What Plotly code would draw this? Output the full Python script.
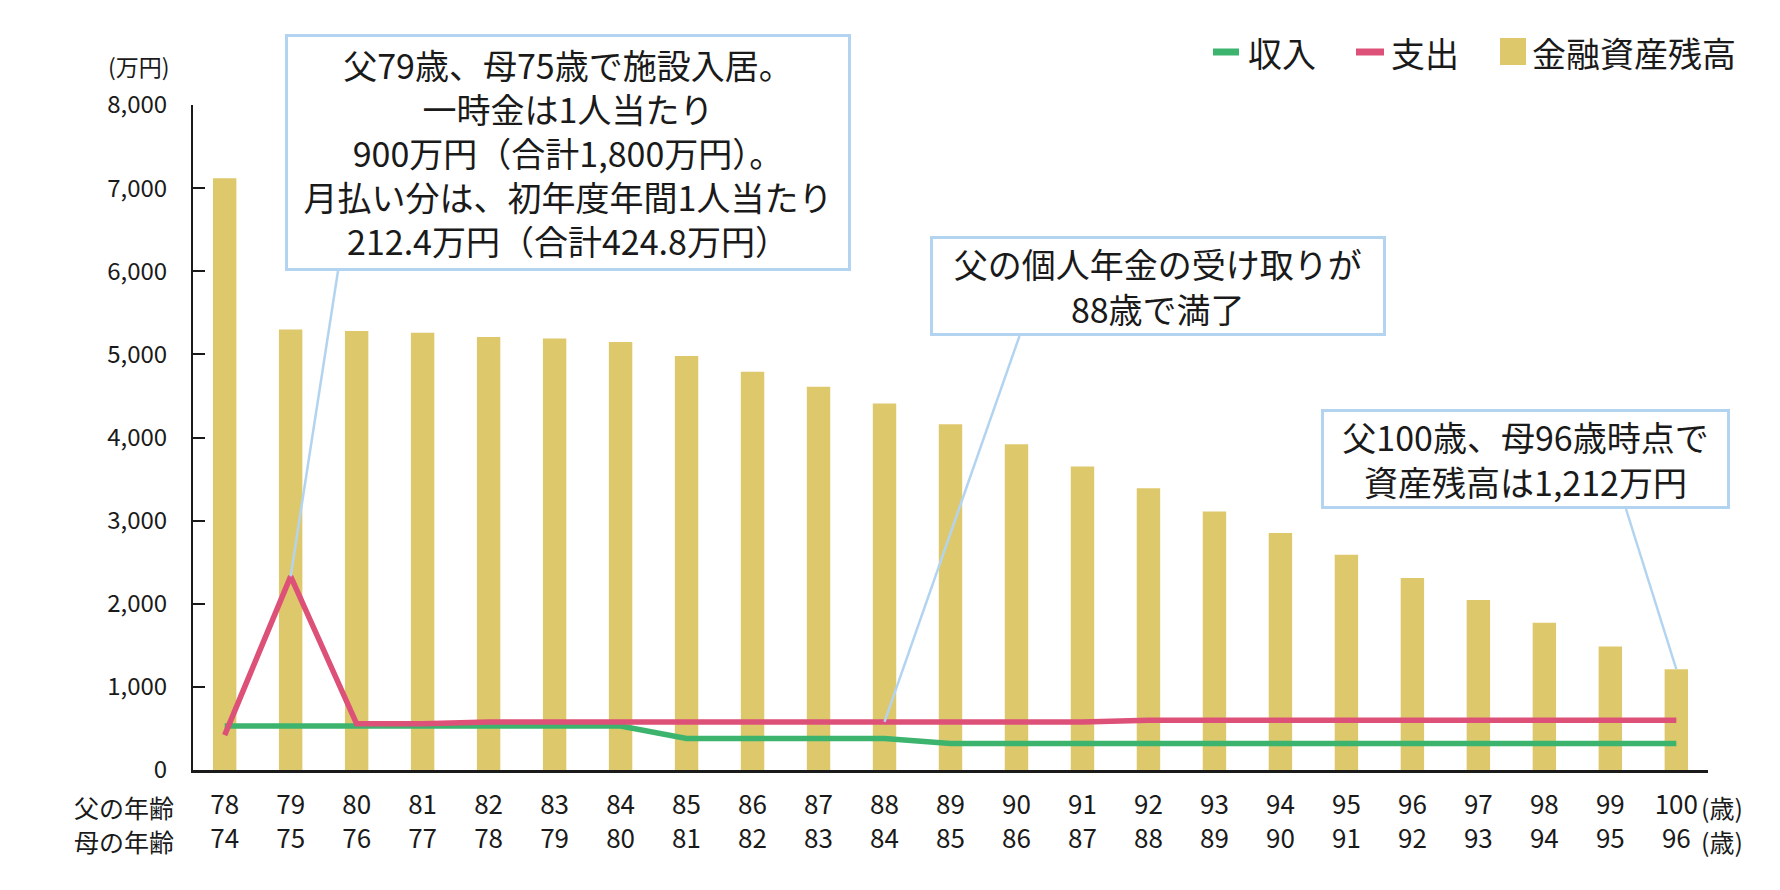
import plotly.graph_objects as go

# 年齢（父・母）
chichi = list(range(78, 101))
haha = list(range(74, 97))

# 金額（万円）
shuunyuu = [530, 530, 530, 530, 530, 530, 530, 380, 380, 380, 380,
            320, 320, 320, 320, 320, 320, 320, 320, 320, 320, 320, 320]
shishutsu = [420, 2330, 555, 555, 578, 578, 578, 578, 578, 578, 578,
             578, 578, 578, 600, 600, 600, 600, 600, 600, 600, 600, 600]
zandaka = [7120, 5300, 5280, 5260, 5210, 5190, 5150, 4980, 4790, 4610, 4410,
           4160, 3920, 3650, 3390, 3110, 2850, 2590, 2310, 2045, 1770, 1485, 1212]

ticktext = [f"{f}<br>{m}" for f, m in zip(chichi, haha)]

FONT = "Noto Sans CJK JP"
KURO = "#1a1a1a"
GOLD = "#dec86c"
MIDORI = "#3cb46e"
AKA = "#dd5078"
AO = "#b2d4f0"

# ページ上の位置（ブラウザのbody margin 8px分を差し引く）
OFF = 8
FW, FH = 1780 - 2 * OFF, 890 - 2 * OFF
X0, X1, Y0, Y1 = 193, 1708, 105, 770   # プロット領域（ページ座標）
XMIN, XMAX = 77.52, 100.48


def px(p):
    return (p - X0) / (X1 - X0)


def py(p):
    return (Y1 - p) / (Y1 - Y0)


def dx(p):
    return XMIN + (p - X0) / (X1 - X0) * (XMAX - XMIN)


def dy(p):
    return (Y1 - p) / (Y1 - Y0) * 8000


fig = go.Figure()

fig.add_trace(go.Bar(
    x=chichi, y=zandaka, name='金融資産残高',
    marker=dict(color=GOLD, line=dict(width=0)),
    width=0.355
))
fig.add_trace(go.Scatter(
    x=chichi, y=shuunyuu, name='収入', mode='lines',
    line=dict(color=MIDORI, width=5.5)
))
fig.add_trace(go.Scatter(
    x=chichi, y=shishutsu, name='支出', mode='lines',
    line=dict(color=AKA, width=5.5)
))

# 吹き出し（テキストボックス）
boxes = [
    ("父79歳、母75歳で施設入居。<br>一時金は1人当たり<br>900万円（合計1,800万円）。"
     "<br>月払い分は、初年度年間1人当たり<br>212.4万円（合計424.8万円）",
     285, 851, 34, 271),
    ("父の個人年金の受け取りが<br>88歳で満了", 930.5, 1386, 236, 336),
    ("父100歳、母96歳時点で<br>資産残高は1,212万円", 1321, 1730, 409, 509),
]
annotations = []
for txt, x0, x1, y0, y1 in boxes:
    annotations.append(dict(
        text=txt, xref='paper', yref='paper',
        x=px((x0 + x1) / 2), y=py((y0 + y1) / 2),
        xanchor='center', yanchor='middle', showarrow=False,
        width=x1 - x0 - 14, height=y1 - y0 - 14,
        align='center', valign='middle',
        bgcolor='white', bordercolor=AO, borderwidth=3, borderpad=4,
        font=dict(family=FONT, size=34, color=KURO)
    ))

# 吹き出しの線（ボックス下端 -> 指し示す点）
pointers = [
    (338, 271, chichi[1], shishutsu[1]),
    (1019.5, 336, chichi[10], 580),
    (1626, 509, chichi[-1], zandaka[-1]),
]
shapes = []
for sx, sy, ex, ey in pointers:
    shapes.append(dict(
        type='line', xref='x', yref='y',
        x0=dx(sx), y0=dy(sy), x1=ex, y1=ey,
        line=dict(color=AO, width=2.5), layer='above'
    ))

# 凡例（手描き）
shapes += [
    dict(type='line', xref='paper', yref='paper', x0=px(1213), x1=px(1239),
         y0=py(52), y1=py(52), line=dict(color=MIDORI, width=7)),
    dict(type='line', xref='paper', yref='paper', x0=px(1356), x1=px(1384),
         y0=py(52), y1=py(52), line=dict(color=AKA, width=7)),
    dict(type='rect', xref='paper', yref='paper', x0=px(1500), x1=px(1526),
         y0=py(65), y1=py(38), fillcolor=GOLD, line=dict(width=0)),
]
for txt, x in [('収入', 1246), ('支出', 1389), ('金融資産残高', 1530)]:
    annotations.append(dict(
        text=txt, xref='paper', yref='paper', x=px(x), y=py(52),
        xanchor='left', yanchor='middle', showarrow=False,
        font=dict(family=FONT, size=34, color=KURO)
    ))

# 軸まわりのラベル
annotations.append(dict(text='(万円)', xref='paper', yref='paper', x=px(139), y=py(66),
                        xanchor='center', yanchor='middle', showarrow=False,
                        borderpad=0,
                        font=dict(family=FONT, size=23, color=KURO)))
for txt, y in [('父の年齢', 807), ('母の年齢', 841)]:
    annotations.append(dict(text=txt, xref='paper', yref='paper', x=px(176), y=py(y),
                            xanchor='right', yanchor='middle', showarrow=False,
                            font=dict(family=FONT, size=25, color=KURO)))
    annotations.append(dict(text='(歳)', xref='paper', yref='paper', x=px(1699), y=py(y),
                            xanchor='left', yanchor='middle', showarrow=False,
                            font=dict(family=FONT, size=25, color=KURO)))

fig.update_layout(
    width=FW, height=FH,
    margin=dict(l=X0 - OFF, r=FW - (X1 - OFF), t=Y0 - OFF, b=FH - (Y1 - OFF)),
    plot_bgcolor='white', paper_bgcolor='white',
    showlegend=False,
    font=dict(family=FONT, color=KURO),
    annotations=annotations,
    shapes=shapes,
)
fig.update_xaxes(
    range=[XMIN, XMAX],
    tickvals=chichi, ticktext=ticktext,
    tickfont=dict(family=FONT, size=26, color=KURO),
    ticklabelstandoff=10,
    showline=True, linecolor=KURO, linewidth=2.5,
    ticks='', showgrid=False, zeroline=False,
)
fig.update_yaxes(
    range=[0, 8000], dtick=1000, tickformat=',d',
    tickfont=dict(family=FONT, size=24, color=KURO),
    showline=True, linecolor=KURO, linewidth=2,
    ticks='inside', ticklen=12, tickwidth=2, tickcolor=KURO,
    ticklabelstandoff=19,
    showgrid=False, zeroline=False,
)

fig.write_html("out.html")
